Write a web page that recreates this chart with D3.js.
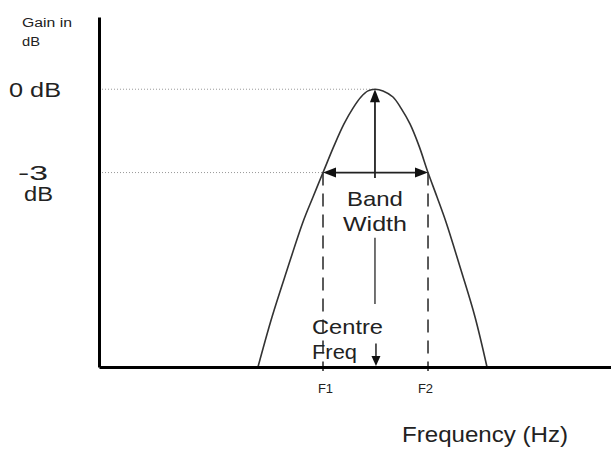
<!DOCTYPE html>
<html>
<head>
<meta charset="utf-8">
<script src="https://cdn.jsdelivr.net/npm/d3@7"></script>
<style>
  html, body { margin: 0; padding: 0; background: #fff; }
  svg { display: block; }
  text { font-family: "Liberation Sans", Arial, sans-serif; fill: #222; }
</style>
</head>
<body>
<svg id="chart" width="611" height="458"></svg>
<script>
// ---- data ----
const curveFreq = [3.105, 3.379, 3.672, 3.984, 4.18, 4.375, 4.59, 4.785, 4.961, 5.117, 5.254, 5.39,
                   5.547, 5.742, 5.898, 6.074, 6.25, 6.426, 6.602, 6.777, 7.07, 7.344, 7.578];
const curveGain = [-10, -8.2, -6.51, -4.78, -3.88, -3, -2.04, -1.25, -0.68, -0.28, -0.06, 0,
                   -0.06, -0.28, -0.68, -1.25, -2.04, -3, -3.88, -4.78, -6.51, -8.2, -10];
const centreFreq = 5.39;
const bandEdges = [4.375, 6.426];
const bandLabels = ["F1", "F2"];
const levels = [0, -3];
const levelLabels = [["0 dB"], ["-3", "dB"]];

const svg = d3.select("#chart");
const x = d3.scaleLinear().domain([0, 10]).range([99, 611]);
const y = d3.scaleLinear().domain([-10, 2.6]).range([367, 17]);

// dotted reference lines
svg.append("line").attr("x1", x(0)).attr("x2", x(centreFreq)).attr("y1", y(0)).attr("y2", y(0))
  .attr("stroke", "#999").attr("stroke-width", 1).attr("stroke-dasharray", "1,2");
svg.append("line").attr("x1", x(0)).attr("x2", x(bandEdges[0])).attr("y1", y(-3)).attr("y2", y(-3))
  .attr("stroke", "#999").attr("stroke-width", 1).attr("stroke-dasharray", "1,2");

// dashed band edges
bandEdges.forEach(f => {
  svg.append("line").attr("x1", x(f)).attr("x2", x(f)).attr("y1", y(-3)).attr("y2", y(-10) + 4)
    .attr("stroke", "#333").attr("stroke-width", 1.6).attr("stroke-dasharray", "13,8");
});

// curve
const pts = curveFreq.map((f, i) => [f, curveGain[i]]);
svg.append("path").datum(pts)
  .attr("d", d3.line().x(d => x(d[0])).y(d => y(d[1])).curve(d3.curveCatmullRom.alpha(0.5)))
  .attr("fill", "none").attr("stroke", "#333").attr("stroke-width", 1.6);

// axes
const xAxis = svg.append("g").attr("transform", `translate(0,${y(-10)})`)
  .call(d3.axisBottom(x).tickValues(bandEdges).tickSize(0).tickSizeOuter(0).tickPadding(17)
    .tickFormat((d, i) => bandLabels[i]));
xAxis.select(".domain").attr("stroke", "#000").attr("stroke-width", 3);
xAxis.selectAll("text").attr("font-size", 13).attr("fill", "#222")
  .attr("font-family", '"Liberation Sans", Arial, sans-serif');
xAxis.selectAll(".tick text").attr("dx", (d, i) => i === 0 ? 2 : -3);

const yAxis = svg.append("g").attr("transform", `translate(${x(0)},0)`)
  .call(d3.axisLeft(y).tickValues([]).tickSizeOuter(0));
yAxis.select(".domain").attr("stroke", "#000").attr("stroke-width", 3);

// arrowhead helper
function head(tipX, tipY, dir, len, half) {
  let p;
  if (dir === "up") p = [[tipX, tipY], [tipX - half, tipY + len], [tipX + half, tipY + len]];
  if (dir === "down") p = [[tipX, tipY], [tipX - half, tipY - len], [tipX + half, tipY - len]];
  if (dir === "left") p = [[tipX, tipY], [tipX + len, tipY - half], [tipX + len, tipY + half]];
  if (dir === "right") p = [[tipX, tipY], [tipX - len, tipY - half], [tipX - len, tipY + half]];
  svg.append("path").attr("d", "M" + p.join("L") + "Z").attr("fill", "#111");
}

// vertical arrow to peak
svg.append("line").attr("x1", x(centreFreq)).attr("x2", x(centreFreq)).attr("y1", y(-3.2)).attr("y2", y(0) + 8)
  .attr("stroke", "#222").attr("stroke-width", 1.8);
head(x(centreFreq), y(0), "up", 13, 5);

// band width double arrow
svg.append("line").attr("x1", x(bandEdges[0]) + 6).attr("x2", x(bandEdges[1]) - 6).attr("y1", y(-3)).attr("y2", y(-3))
  .attr("stroke", "#222").attr("stroke-width", 1.8);
head(x(bandEdges[0]), y(-3), "left", 13, 5);
head(x(bandEdges[1]), y(-3), "right", 13, 5);

// middle segment
svg.append("line").attr("x1", x(centreFreq)).attr("x2", x(centreFreq)).attr("y1", y(-5.35)).attr("y2", y(-7.73))
  .attr("stroke", "#444").attr("stroke-width", 1.5);

// centre freq down arrow
const cfx = x(centreFreq) + 1;
svg.append("line").attr("x1", cfx).attr("x2", cfx).attr("y1", y(-9.15)).attr("y2", y(-10) - 6)
  .attr("stroke", "#222").attr("stroke-width", 1.5);
head(cfx, y(-10) - 1, "down", 10, 4.5);

// texts
function txt(s, tx, ty, size, anchor, len) {
  const t = svg.append("text").attr("x", tx).attr("y", ty).attr("font-size", size)
    .attr("text-anchor", anchor || "start").text(s);
  if (len) t.attr("textLength", len).attr("lengthAdjust", "spacingAndGlyphs");
  return t;
}
txt("Gain in", 22, 27, 12, "start", 50);
txt("dB", 22, 46, 12, "start", 18);

txt(levelLabels[0][0], 9, y(levels[0]) + 8, 20, "start", 52);
txt(levelLabels[1][0], 18, y(levels[1]) + 7, 20, "start", 30);
txt(levelLabels[1][1], 24, y(levels[1]) + 28, 20, "start", 29);

txt("Band", x(centreFreq), 206, 21, "middle", 56);
txt("Width", x(centreFreq), 231, 21, "middle", 64);
txt("Centre", 312, 334, 21, "start", 71);
txt("Freq", 312, 359, 21, "start", 45);

txt("Frequency (Hz)", 402, 442, 22, "start", 166);
</script>
</body>
</html>
